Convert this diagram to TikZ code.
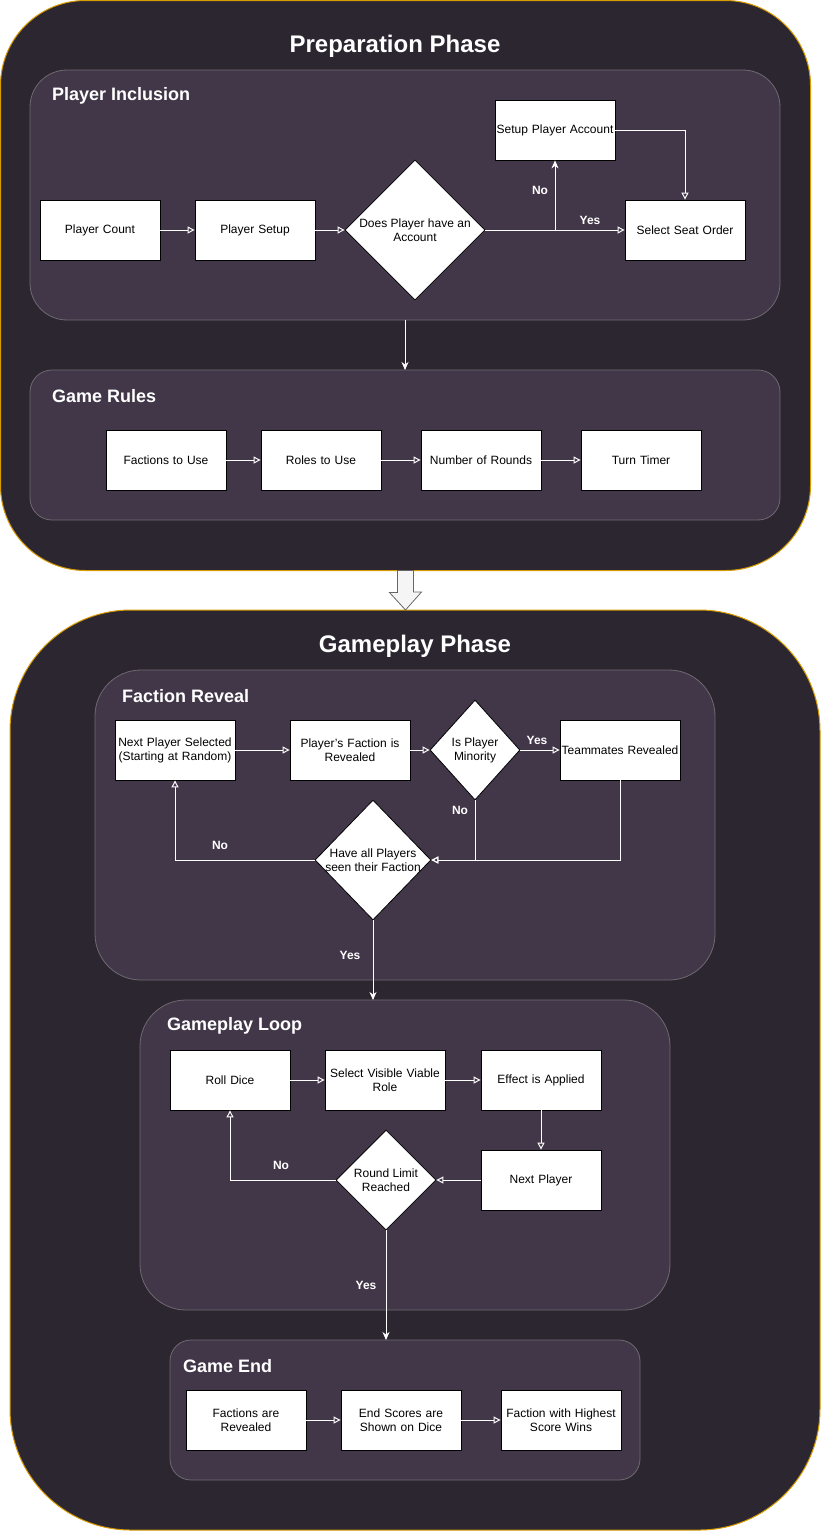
\documentclass[tikz,border=0pt]{standalone}
\usepackage{fontspec}
\setmainfont{Liberation Sans}
\usetikzlibrary{arrows.meta, shapes.geometric, calc}
\definecolor{phaseBd}{HTML}{D79B00}
\definecolor{phaseFl}{HTML}{2C2631}
\definecolor{groupBd}{HTML}{6E6A70}
\definecolor{groupFl}{HTML}{423749}
\definecolor{bigFl}{HTML}{F5F5F5}
\definecolor{bigBd}{HTML}{666666}

\begin{document}
\begin{tikzpicture}[
  x=1pt, y=-1pt,
  font=\fontsize{12}{14}\selectfont,
  phase/.style={draw=phaseBd, fill=phaseFl, line width=1pt, inner sep=0pt, outer sep=0pt},
  group/.style={draw=groupBd, fill=groupFl, line width=0.8pt, inner sep=0pt, outer sep=0pt},
  phasetitle/.style={text=white, font=\fontsize{24}{27}\selectfont\bfseries},
  grouptitle/.style={text=white, anchor=west, inner sep=0pt, font=\fontsize{18}{21}\selectfont\bfseries},
  box/.style={draw=black, fill=white, line width=0.8pt, minimum width=120pt, minimum height=60pt,
              text width=118pt, align=center, inner sep=1pt},
  dia/.style={diamond, draw=black, fill=white, line width=0.8pt, inner sep=0pt},
  dtext/.style={align=center, inner sep=0pt},
  flow/.style={-{Triangle[open, length=7pt, width=7pt]}, draw=white, line width=1pt},
  push/.style={-{Stealth[length=8pt, width=7pt, inset=2.5pt]}, draw=white, line width=1pt},
  tag/.style={text=white, font=\fontsize{12}{14}\selectfont\bfseries, inner sep=1pt},
]
\useasboundingbox (0,0) rectangle (821,1532);

% ---------------------------- preparation phase ---------------------------
\node[phase, rounded corners=85pt, minimum width=810pt, minimum height=570pt,
      anchor=north west] (prep) at (0.5,0.5) {};
\node[phasetitle] (preptitle) at (395,46) {Preparation Phase};

\node[group, rounded corners=37pt, minimum width=750pt, minimum height=250pt] (incl) at (405,195) {};
\node[grouptitle] (incltitle) at (52,96) {Player Inclusion};

\node[group, rounded corners=22pt, minimum width=750pt, minimum height=150pt] (rules) at (405,445) {};
\node[grouptitle] (rulestitle) at (52,396) {Game Rules};

% who plays, and in which seat
\node[box] (count) at (100,230) {Player Count};
\node[box] (setup) at (255,230) {Player Setup};
\node[dia, minimum width=140pt, minimum height=140pt,
      label={[dtext]center:Does Player have an\\Account}] (hasacc) at (415,230) {};
\node[box] (account) at (555,130) {Setup Player Account};
\node[box] (seat) at (685,230) {Select Seat Order};
\coordinate (fork) at (555,230);

% the table settings
\node[box] (factions) at (166,460) {Factions to Use};
\node[box] (roles) at (321,460) {Roles to Use};
\node[box] (rounds) at (481,460) {Number of Rounds};
\node[box] (timer) at (641,460) {Turn Timer};

% ---------------------------- gameplay phase ------------------------------
\node[phase, rounded corners=121pt, minimum width=810pt, minimum height=920pt,
      anchor=north west] (play) at (10,610) {};
\node[phasetitle] (playtitle) at (415,646) {Gameplay Phase};

\node[group, rounded corners=46pt, minimum width=620pt, minimum height=310pt] (reveal) at (405,825) {};
\node[grouptitle] (revealtitle) at (122,696) {Faction Reveal};

\node[group, rounded corners=46pt, minimum width=530pt, minimum height=310pt] (loop) at (405,1155) {};
\node[grouptitle] (looptitle) at (167,1026) {Gameplay Loop};

\node[group, rounded corners=21pt, minimum width=470pt, minimum height=140pt] (finish) at (405,1410) {};
\node[grouptitle] (finishtitle) at (183,1366) {Game End};

% each player learns a side
\node[box] (pick) at (175,750) {Next Player Selected\\(Starting at Random)};
\node[box] (shown) at (350,750) {Player's Faction is\\Revealed};
\node[dia, minimum width=90pt, minimum height=100pt,
      label={[dtext]center:Is Player\\Minority}] (minor) at (475,750) {};
\node[box] (mates) at (620,750) {Teammates Revealed};
\node[dia, minimum width=116pt, minimum height=120pt,
      label={[dtext]center:Have all Players\\seen their Faction}] (seen) at (373,860) {};

% the turn cycle
\node[box] (roll) at (230,1080) {Roll Dice};
\node[box] (role) at (385,1080) {Select Visible Viable\\Role};
\node[box] (effect) at (541,1080) {Effect is Applied};
\node[box] (nextp) at (541,1180) {Next Player};
\node[dia, minimum width=100pt, minimum height=100pt,
      label={[dtext]center:Round Limit\\Reached}] (limit) at (386,1180) {};

% the count
\node[box] (unmask) at (246,1420) {Factions are\\Revealed};
\node[box] (scores) at (401,1420) {End Scores are\\Shown on Dice};
\node[box] (winner) at (561,1420) {Faction with Highest\\Score Wins};

% ---------------------------- flow ----------------------------------------
\draw[flow] (count.east) -- (setup.west);
\draw[flow] (setup.east) -- (hasacc.west);
\draw[flow] (hasacc.east) -- (seat.west);
\draw[push] (fork) -- (account.south);
\draw[flow] (account.east) -| (seat.north);
\node[tag] (accyes) at (590,220) {Yes};
\node[tag] (accno) at (540,190) {No};

\draw[push] (incl.south) -- (rules.north);

\draw[flow] (factions.east) -- (roles.west);
\draw[flow] (roles.east) -- (rounds.west);
\draw[flow] (rounds.east) -- (timer.west);

% the hand-over between the phases is a block arrow
\draw[draw=bigBd, fill=bigFl, line width=0.8pt]
  ($(prep.south)+(-8,0)$) -- ++(0,22) -- ++(-8,0) -- ($(prep.south |- play.north)$)
  -- ++(16,-18) -- ++(-8,0) -- ($(prep.south)+(8,0)$) -- cycle;

\draw[flow] (pick.east) -- (shown.west);
\draw[flow] (shown.east) -- (minor.west);
\draw[flow] (minor.east) -- (mates.west);
\draw[flow] (minor.south) |- (seen.east);
\draw[flow] (mates.south) |- (seen.east);
\draw[flow] (seen.west) -| (pick.south);
\draw[push] (seen.south) -- (seen.south |- loop.north);
\node[tag] (minyes) at (537,740) {Yes};
\node[tag] (minno) at (460,810) {No};
\node[tag] (seenno) at (220,845) {No};
\node[tag] (seenyes) at (350,955) {Yes};

\draw[flow] (roll.east) -- (role.west);
\draw[flow] (role.east) -- (effect.west);
\draw[flow] (effect.south) -- (nextp.north);
\draw[flow] (nextp.west) -- (limit.east);
\draw[flow] (limit.west) -| (roll.south);
\draw[push] (limit.south) -- (limit.south |- finish.north);
\node[tag] (limno) at (281,1165) {No};
\node[tag] (limyes) at (366,1285) {Yes};

\draw[flow] (unmask.east) -- (scores.west);
\draw[flow] (scores.east) -- (winner.west);

\end{tikzpicture}
\end{document}
